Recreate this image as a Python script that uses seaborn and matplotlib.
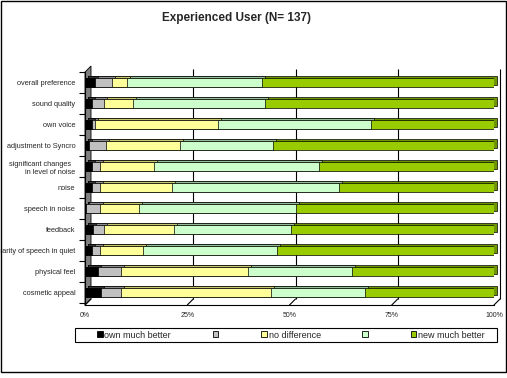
import numpy as np
import pandas as pd
import matplotlib
matplotlib.use("Agg")
import matplotlib.pyplot as plt
import matplotlib.transforms as mtransforms
from matplotlib.patches import Patch, Polygon, Rectangle
from matplotlib.lines import Line2D
import seaborn as sns

# ---- data (percent of respondents) ----
items = ["overall preference", "sound quality", "own voice", "adjustment to Syncro",
         "significant changes  \nin level of noise", "noise", "speech in noise", "feedback",
         "clarity of speech in quiet", "physical feel", "cosmetic appeal"]
own_much_better = [2.4, 1.7, 1.7, 1.0, 1.7, 1.7, 0.2, 2.0, 1.7, 3.2, 3.9]
own_better = [4.2, 2.9, 0.7, 4.1, 2.0, 2.0, 3.5, 2.7, 2.0, 5.6, 4.9]
no_difference = [3.7, 7.1, 30.1, 18.1, 13.2, 17.6, 9.5, 17.1, 10.5, 31.1, 36.7]
new_better = [33.0, 32.3, 37.4, 22.7, 40.3, 40.8, 38.4, 28.6, 32.8, 25.4, 23.0]
new_much_better = [56.7, 56.0, 30.1, 54.1, 42.8, 37.9, 48.4, 49.6, 53.1, 34.7, 31.5]

series_names = ["own much better", "", "no difference", "", "new much better"]
x_ticks = [0, 25, 50, 75, 100]
x_tick_labels = ["0%", "25%", "50%", "75%", "100%"]

face_colors = ["#000000", "#C0C0C0", "#FFFF99", "#CCFFCC", "#99CC00"]
top_colors = ["#333333", "#8C8C8C", "#C8C86E", "#96BE96", "#6E9600"]

W, H = 507, 378
DX, DY = 3, 2      # bar depth (pixels)
WX, WY = 6, 6      # wall / floor depth (pixels)

sns.set_style("white")
plt.rcParams["font.family"] = ["Liberation Sans", "DejaVu Sans"]

cols = ["s0", "s1", "s2", "s3", "s4"]
df = pd.DataFrame({"item": items, "s0": own_much_better, "s1": own_better,
                   "s2": no_difference, "s3": new_better, "s4": new_much_better})
cum = df[cols].cumsum(axis=1)

fig = plt.figure(figsize=(W / 100, H / 100), dpi=100)
ax = fig.add_axes([85 / W, 1 - 305 / H, 409 / W, 233 / H])

shadow_t = mtransforms.offset_copy(ax.transData, fig=fig, x=DX, y=DY, units="dots")
grid_t = mtransforms.offset_copy(ax.transData, fig=fig, x=WX, y=WY, units="dots")

# 3D "depth" of the bars: darker copies shifted up/right, drawn behind the fronts
for k in reversed(range(5)):
    sns.barplot(x=cum[cols[k]], y=df["item"], orient="h", color=top_colors[k],
                saturation=1, errorbar=None, edgecolor="black", linewidth=0.5,
                width=0.45, ax=ax, zorder=1)
    for p in ax.patches[-len(items):]:
        p.set_transform(shadow_t)
        p.set_clip_on(False)

# front faces, stacked by overlaying cumulative totals
for k in reversed(range(5)):
    sns.barplot(x=cum[cols[k]], y=df["item"], orient="h", color=face_colors[k],
                saturation=1, errorbar=None, edgecolor="black", linewidth=0.5,
                width=0.45, ax=ax, zorder=2)

ylo, yhi = 10.59, -0.35
ax.set_xlim(0, 100)
ax.set_ylim(ylo, yhi)

# back-wall gridlines
ax.vlines(x_ticks[1:], ylo, yhi, colors="black", linewidth=0.8,
          transform=grid_t, zorder=0.5, clip_on=False)

# left wall
x0, yb = ax.transAxes.transform((0, 0))
_, yt = ax.transAxes.transform((0, 1))
wall = Polygon([(x0, yb), (x0, yt), (x0 + WX, yt + WY), (x0 + WX, yb + WY)],
               closed=True, facecolor="#808080", edgecolor="black", linewidth=0.6,
               transform=mtransforms.IdentityTransform(), zorder=0.8, clip_on=False)
ax.add_artist(wall)

# floor diagonals
for xv in x_ticks:
    px, py = ax.transData.transform((xv, ylo))
    ax.add_artist(Line2D([px, px + WX], [py, py + WY], color="black", linewidth=0.8,
                         transform=mtransforms.IdentityTransform(), clip_on=False))

ax.set_xticks(x_ticks, x_tick_labels)
ax.set_yticks(np.arange(-0.5, 11, 1), minor=True)
ax.tick_params(axis="x", length=2, width=0.8, direction="out", pad=3,
               labelsize=5, color="black")
ax.tick_params(axis="y", which="major", length=0, pad=7, labelsize=5.3)
ax.tick_params(axis="y", which="minor", length=4, width=0.8, direction="out",
               color="black", left=True)
ax.set_xlabel("")
ax.set_ylabel("")
for side in ["top", "right"]:
    ax.spines[side].set_visible(False)
for side in ["left", "bottom"]:
    ax.spines[side].set_color("black")
    ax.spines[side].set_linewidth(0.8)
ax.grid(False)

fig.text(237 / W, 1 - 18 / H, "Experienced User (N= 137)", ha="center", va="center",
         fontsize=8.5, fontweight="bold")

# legend: entries centred in a plain rectangular box
fig.add_artist(Rectangle((75 / W, 1 - 342 / H), 422 / W, 14 / H, transform=fig.transFigure,
                         facecolor="white", edgecolor="black", linewidth=0.8, zorder=3))
handles = [Patch(facecolor=c, edgecolor="black", linewidth=0.6) for c in face_colors]
leg = fig.legend(handles, series_names, loc="center",
                 bbox_to_anchor=(291 / W, 1 - 335 / H), ncol=5, fontsize=6.5,
                 frameon=False, handlelength=0.6, handleheight=0.6, handletextpad=0.2,
                 columnspacing=4.6, borderpad=0, borderaxespad=0)
leg.set_zorder(4)

fig.add_artist(Rectangle((1 / W, 1 - 372 / H), 505 / W, 371 / H, transform=fig.transFigure,
                         fill=False, edgecolor="black", linewidth=1))

fig.savefig("out.png", dpi=100)
